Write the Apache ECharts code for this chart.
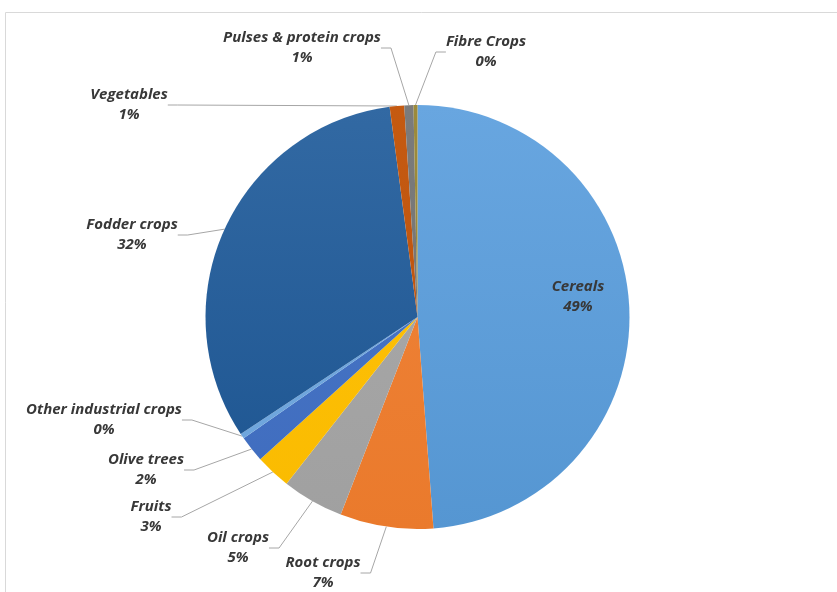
<!DOCTYPE html>
<html>
<head>
<meta charset="utf-8">
<script src="https://cdn.jsdelivr.net/npm/echarts@6/dist/echarts.min.js"></script>
<style>
html,body{margin:0;padding:0;background:#fff;}
#chart{width:837px;height:592px;}
</style>
</head>
<body>
<div id="chart"></div>
<script>
const categories = ['Cereals','Root crops','Oil crops','Fruits','Olive trees','Other industrial crops','Fodder crops','Vegetables','Pulses & protein crops','Fibre Crops'];
const shares = [48.8, 7.1, 4.7, 2.7, 2.0, 0.4, 32.2, 1.1, 0.7, 0.3];

const sliceTop    = ['#68A6E0','#F0843A','#ABABAB','#FFC20A','#4A78C8','#6FA6DD','#3269A3','#C55A11','#7B7B7B','#9C8A3A'];
const sliceBottom = ['#5596D2','#EA7A2C','#A0A0A0','#FABB00','#3F6CBE','#6FA6DD','#1C5490','#B9520F','#707070','#9C8A3A'];
// label centre positions (pixels) – layout only
const labelPos = [[578,297],[323,573],[238,548],[151,517],[146,470],[104,420],[132,235],[129,105],[302,48],[486,52]];

const chart = echarts.init(document.getElementById('chart'), null, {renderer:'canvas'});
const data = categories.map((c,i)=>({
  name:c, value:shares[i],
  itemStyle:{color:new echarts.graphic.LinearGradient(0,105,0,529,[
    {offset:0,color:sliceTop[i]},{offset:1,color:sliceBottom[i]}],true)},
  labelLine:{show:i!==0}
}));
chart.setOption({
  animation:false,
  graphic:[{type:'rect',shape:{x:5.5,y:12.5,width:840,height:600},style:{fill:'none',stroke:'#d9d9d9',lineWidth:1}}],
  series:[{
    type:'pie',
    center:[417.5,317],
    radius:212,
    startAngle:90,
    clockwise:true,
    percentPrecision:0,
    data:data,
    itemStyle:{borderWidth:0},
    label:{
      show:true,
      formatter:'{b}\n{d}%',
      fontFamily:'Open Sans',
      fontStyle:'italic',
      fontWeight:'bold',
      fontSize:15,
      lineHeight:20,
      color:'#383838',
      align:'center'
    },
    labelLine:{show:true,lineStyle:{color:'#a6a6a6',width:1},length:15,length2:10,smooth:false},
    labelLayout:function(p){
      const pos = labelPos[p.dataIndex];
      return {x:pos[0], y:pos[1], align:'center', verticalAlign:'middle'};
    }
  }]
});
</script>
</body>
</html>
